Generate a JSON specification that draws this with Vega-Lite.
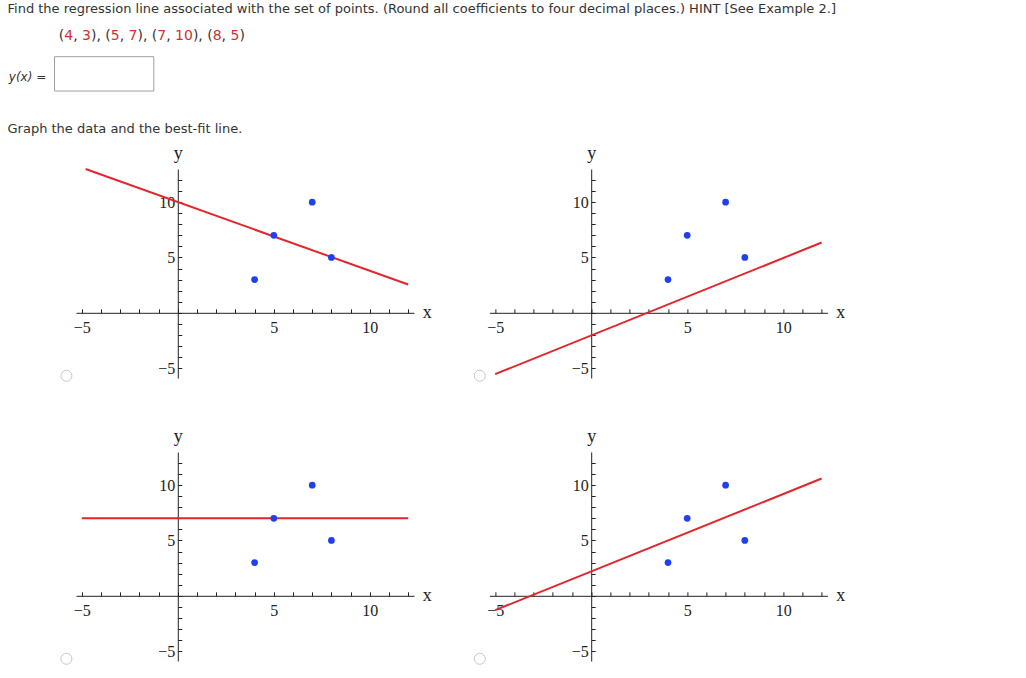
{
  "$schema": "https://vega.github.io/schema/vega-lite/v6.json",
  "background": "white",
  "padding": {"left": 7, "top": 0, "right": 5, "bottom": 5},
  "bounds": "flush",
  "columns": 2,
  "spacing": {"row": 74, "column": 75.4},
  "config": {"view": {"stroke": null}, "axis": {"labelOverlap": false}, "text": {"font": "DejaVu Sans", "fontSize": 14, "align": "left", "baseline": "alphabetic"}},
  "datasets": {
    "points": [{"x": 4, "y": 3}, {"x": 5, "y": 7}, {"x": 7, "y": 10}, {"x": 8, "y": 5}],
    "fitA": [{"x": -4.8, "y": 13.0}, {"x": 12.0, "y": 2.55}],
    "fitB": [{"x": -5, "y": -5.55}, {"x": 12, "y": 6.35}],
    "fitC": [{"x": -5, "y": 7}, {"x": 12, "y": 7}],
    "fitD": [{"x": -5, "y": -1.3}, {"x": 12, "y": 10.6}],
    "radio": [{"x": -5.8, "y": -5.7}]
  },
  "concat": [
    {
      "width": 338,
      "height": 94.5,
      "layer": [
        {"data": {"values": [{"t": "Find the regression line associated with the set of points. (Round all coefficients to four decimal places.) HINT [See Example 2.]"}]},
         "mark": {"type": "text", "x": -68.5, "y": 12.7, "fontSize": 13, "color": "#333333"},
         "encoding": {"text": {"field": "t"}}},
        {"data": {"values": [{"t": "("}]}, "mark": {"type": "text", "x": -17.2, "y": 40, "color": "#333333"}, "encoding": {"text": {"field": "t"}}},
        {"data": {"values": [{"t": "4"}]}, "mark": {"type": "text", "x": -11.74, "y": 40, "color": "#d0302f"}, "encoding": {"text": {"field": "t"}}},
        {"data": {"values": [{"t": ","}]}, "mark": {"type": "text", "x": -2.84, "y": 40, "color": "#333333"}, "encoding": {"text": {"field": "t"}}},
        {"data": {"values": [{"t": "3"}]}, "mark": {"type": "text", "x": 6.06, "y": 40, "color": "#d0302f"}, "encoding": {"text": {"field": "t"}}},
        {"data": {"values": [{"t": "), ("}]}, "mark": {"type": "text", "x": 14.96, "y": 40, "color": "#333333"}, "encoding": {"text": {"field": "t"}}},
        {"data": {"values": [{"t": "5"}]}, "mark": {"type": "text", "x": 34.78, "y": 40, "color": "#d0302f"}, "encoding": {"text": {"field": "t"}}},
        {"data": {"values": [{"t": ","}]}, "mark": {"type": "text", "x": 43.68, "y": 40, "color": "#333333"}, "encoding": {"text": {"field": "t"}}},
        {"data": {"values": [{"t": "7"}]}, "mark": {"type": "text", "x": 52.58, "y": 40, "color": "#d0302f"}, "encoding": {"text": {"field": "t"}}},
        {"data": {"values": [{"t": "), ("}]}, "mark": {"type": "text", "x": 61.48, "y": 40, "color": "#333333"}, "encoding": {"text": {"field": "t"}}},
        {"data": {"values": [{"t": "7"}]}, "mark": {"type": "text", "x": 81.3, "y": 40, "color": "#d0302f"}, "encoding": {"text": {"field": "t"}}},
        {"data": {"values": [{"t": ","}]}, "mark": {"type": "text", "x": 90.2, "y": 40, "color": "#333333"}, "encoding": {"text": {"field": "t"}}},
        {"data": {"values": [{"t": "10"}]}, "mark": {"type": "text", "x": 99.1, "y": 40, "color": "#d0302f"}, "encoding": {"text": {"field": "t"}}},
        {"data": {"values": [{"t": "), ("}]}, "mark": {"type": "text", "x": 116.9, "y": 40, "color": "#333333"}, "encoding": {"text": {"field": "t"}}},
        {"data": {"values": [{"t": "8"}]}, "mark": {"type": "text", "x": 136.72, "y": 40, "color": "#d0302f"}, "encoding": {"text": {"field": "t"}}},
        {"data": {"values": [{"t": ","}]}, "mark": {"type": "text", "x": 145.62, "y": 40, "color": "#333333"}, "encoding": {"text": {"field": "t"}}},
        {"data": {"values": [{"t": "5"}]}, "mark": {"type": "text", "x": 154.52, "y": 40, "color": "#d0302f"}, "encoding": {"text": {"field": "t"}}},
        {"data": {"values": [{"t": ")"}]}, "mark": {"type": "text", "x": 163.42, "y": 40, "color": "#333333"}, "encoding": {"text": {"field": "t"}}},
        {"data": {"values": [{"t": "y(x) ="}]},
         "mark": {"type": "text", "x": -67.2, "y": 80.5, "fontSize": 12, "fontStyle": "italic", "color": "#333333"},
         "encoding": {"text": {"field": "t"}}},
        {"data": {"values": [{"t": "box"}]},
         "mark": {"type": "rect", "x": -21.5, "x2": 77.8, "y": 56.7, "y2": 91, "fill": "white", "stroke": "#a0a0a0", "strokeWidth": 1},
         "encoding": {}},
        {"data": {"values": [{"t": "Graph the data and the best-fit line."}]},
         "mark": {"type": "text", "x": -68.5, "y": 133, "fontSize": 13, "color": "#333333"},
         "encoding": {"text": {"field": "t"}}}
      ]
    },
    {
      "width": 338,
      "height": 94.5,
      "data": {"values": [{"t": ""}]},
      "mark": {"type": "text"},
      "encoding": {"text": {"field": "t"}}
    },
    {
      "width": 338, "height": 209,
      "layer": [
        {"data": {"name": "fitA"}, "mark": {"type": "line", "color": "#e3262b", "strokeWidth": 2},
         "encoding": {
           "x": {"field": "x", "type": "quantitative", "scale": {"domain": [-5.3, 12.3], "nice": false, "zero": false},
                 "axis": {"title": "x", "values": [-5,-4,-3,-2,-1,0,1,2,3,4,5,6,7,8,9,10,11,12], "tickCount": 100, "format": "d", "labelExpr": "datum.value == -5 || datum.value == 5 || datum.value == 10 ? datum.label : ''", "labelFontSize": {"condition": {"test": "datum.value == -5 || datum.value == 5 || datum.value == 10", "value": 16}, "value": 0}, "offset": -65.2, "tickSize": -4, "labelPadding": 11, "labelFont": "Liberation Serif", "labelColor": "#222222", "tickColor": "#222222", "domainColor": "#222222", "grid": false, "labelFlush": false, "labelOverlap": false, "titleFont": "Liberation Serif", "titleFontSize": 18, "titleFontWeight": "normal", "titleColor": "#222222", "titleX": 350.8, "titleY": 4.7, "titleAlign": "center", "titleBaseline": "alphabetic"}},
           "y": {"field": "y", "type": "quantitative", "scale": {"domain": [-5.9, 13.0], "nice": false, "zero": false},
                 "axis": {"title": "y", "values": [-5,-4,-3,-2,-1,0,1,2,3,4,5,6,7,8,9,10,11,12], "tickCount": 100, "format": "d", "labelExpr": "datum.value == -5 || datum.value == 5 || datum.value == 10 ? datum.label : ''", "labelFontSize": {"condition": {"test": "datum.value == -5 || datum.value == 5 || datum.value == 10", "value": 16}, "value": 0}, "offset": -101.8, "tickSize": -4, "labelPadding": 7, "labelFont": "Liberation Serif", "labelColor": "#222222", "tickColor": "#222222", "domainColor": "#222222", "grid": false, "labelFlush": false, "labelOverlap": false, "titleFont": "Liberation Serif", "titleFontSize": 18, "titleFontWeight": "normal", "titleColor": "#222222", "titleAngle": 0, "titleX": 0, "titleY": -10.3, "titleAlign": "center", "titleBaseline": "alphabetic"}}
         }},
        {"data": {"name": "points"}, "mark": {"type": "point", "filled": true, "size": 45, "color": "#1f3ff0", "opacity": 1},
         "encoding": {"x": {"field": "x", "type": "quantitative", "scale": {"domain": [-5.3, 12.3], "nice": false, "zero": false}},
                      "y": {"field": "y", "type": "quantitative", "scale": {"domain": [-5.9, 13.0], "nice": false, "zero": false}}}},
        {"data": {"name": "radio"}, "mark": {"type": "point", "shape": "circle", "filled": true, "fill": "white", "stroke": "#c8c8c8", "strokeWidth": 1, "size": 121, "opacity": 1},
         "encoding": {"x": {"field": "x", "type": "quantitative", "scale": {"domain": [-5.3, 12.3], "nice": false, "zero": false}},
                      "y": {"field": "y", "type": "quantitative", "scale": {"domain": [-5.9, 13.0], "nice": false, "zero": false}}}}
      ]
    },
    {
      "width": 338, "height": 209,
      "layer": [
        {"data": {"name": "fitB"}, "mark": {"type": "line", "color": "#e3262b", "strokeWidth": 2},
         "encoding": {
           "x": {"field": "x", "type": "quantitative", "scale": {"domain": [-5.3, 12.3], "nice": false, "zero": false},
                 "axis": {"title": "x", "values": [-5,-4,-3,-2,-1,0,1,2,3,4,5,6,7,8,9,10,11,12], "tickCount": 100, "format": "d", "labelExpr": "datum.value == -5 || datum.value == 5 || datum.value == 10 ? datum.label : ''", "labelFontSize": {"condition": {"test": "datum.value == -5 || datum.value == 5 || datum.value == 10", "value": 16}, "value": 0}, "offset": -65.2, "tickSize": -4, "labelPadding": 11, "labelFont": "Liberation Serif", "labelColor": "#222222", "tickColor": "#222222", "domainColor": "#222222", "grid": false, "labelFlush": false, "labelOverlap": false, "titleFont": "Liberation Serif", "titleFontSize": 18, "titleFontWeight": "normal", "titleColor": "#222222", "titleX": 350.8, "titleY": 4.7, "titleAlign": "center", "titleBaseline": "alphabetic"}},
           "y": {"field": "y", "type": "quantitative", "scale": {"domain": [-5.9, 13.0], "nice": false, "zero": false},
                 "axis": {"title": "y", "values": [-5,-4,-3,-2,-1,0,1,2,3,4,5,6,7,8,9,10,11,12], "tickCount": 100, "format": "d", "labelExpr": "datum.value == -5 || datum.value == 5 || datum.value == 10 ? datum.label : ''", "labelFontSize": {"condition": {"test": "datum.value == -5 || datum.value == 5 || datum.value == 10", "value": 16}, "value": 0}, "offset": -101.8, "tickSize": -4, "labelPadding": 7, "labelFont": "Liberation Serif", "labelColor": "#222222", "tickColor": "#222222", "domainColor": "#222222", "grid": false, "labelFlush": false, "labelOverlap": false, "titleFont": "Liberation Serif", "titleFontSize": 18, "titleFontWeight": "normal", "titleColor": "#222222", "titleAngle": 0, "titleX": 0, "titleY": -10.3, "titleAlign": "center", "titleBaseline": "alphabetic"}}
         }},
        {"data": {"name": "points"}, "mark": {"type": "point", "filled": true, "size": 45, "color": "#1f3ff0", "opacity": 1},
         "encoding": {"x": {"field": "x", "type": "quantitative", "scale": {"domain": [-5.3, 12.3], "nice": false, "zero": false}},
                      "y": {"field": "y", "type": "quantitative", "scale": {"domain": [-5.9, 13.0], "nice": false, "zero": false}}}},
        {"data": {"name": "radio"}, "mark": {"type": "point", "shape": "circle", "filled": true, "fill": "white", "stroke": "#c8c8c8", "strokeWidth": 1, "size": 121, "opacity": 1},
         "encoding": {"x": {"field": "x", "type": "quantitative", "scale": {"domain": [-5.3, 12.3], "nice": false, "zero": false}},
                      "y": {"field": "y", "type": "quantitative", "scale": {"domain": [-5.9, 13.0], "nice": false, "zero": false}}}}
      ]
    },
    {
      "width": 338, "height": 209,
      "layer": [
        {"data": {"name": "fitC"}, "mark": {"type": "line", "color": "#e3262b", "strokeWidth": 2},
         "encoding": {
           "x": {"field": "x", "type": "quantitative", "scale": {"domain": [-5.3, 12.3], "nice": false, "zero": false},
                 "axis": {"title": "x", "values": [-5,-4,-3,-2,-1,0,1,2,3,4,5,6,7,8,9,10,11,12], "tickCount": 100, "format": "d", "labelExpr": "datum.value == -5 || datum.value == 5 || datum.value == 10 ? datum.label : ''", "labelFontSize": {"condition": {"test": "datum.value == -5 || datum.value == 5 || datum.value == 10", "value": 16}, "value": 0}, "offset": -65.2, "tickSize": -4, "labelPadding": 11, "labelFont": "Liberation Serif", "labelColor": "#222222", "tickColor": "#222222", "domainColor": "#222222", "grid": false, "labelFlush": false, "labelOverlap": false, "titleFont": "Liberation Serif", "titleFontSize": 18, "titleFontWeight": "normal", "titleColor": "#222222", "titleX": 350.8, "titleY": 4.7, "titleAlign": "center", "titleBaseline": "alphabetic"}},
           "y": {"field": "y", "type": "quantitative", "scale": {"domain": [-5.9, 13.0], "nice": false, "zero": false},
                 "axis": {"title": "y", "values": [-5,-4,-3,-2,-1,0,1,2,3,4,5,6,7,8,9,10,11,12], "tickCount": 100, "format": "d", "labelExpr": "datum.value == -5 || datum.value == 5 || datum.value == 10 ? datum.label : ''", "labelFontSize": {"condition": {"test": "datum.value == -5 || datum.value == 5 || datum.value == 10", "value": 16}, "value": 0}, "offset": -101.8, "tickSize": -4, "labelPadding": 7, "labelFont": "Liberation Serif", "labelColor": "#222222", "tickColor": "#222222", "domainColor": "#222222", "grid": false, "labelFlush": false, "labelOverlap": false, "titleFont": "Liberation Serif", "titleFontSize": 18, "titleFontWeight": "normal", "titleColor": "#222222", "titleAngle": 0, "titleX": 0, "titleY": -10.3, "titleAlign": "center", "titleBaseline": "alphabetic"}}
         }},
        {"data": {"name": "points"}, "mark": {"type": "point", "filled": true, "size": 45, "color": "#1f3ff0", "opacity": 1},
         "encoding": {"x": {"field": "x", "type": "quantitative", "scale": {"domain": [-5.3, 12.3], "nice": false, "zero": false}},
                      "y": {"field": "y", "type": "quantitative", "scale": {"domain": [-5.9, 13.0], "nice": false, "zero": false}}}},
        {"data": {"name": "radio"}, "mark": {"type": "point", "shape": "circle", "filled": true, "fill": "white", "stroke": "#c8c8c8", "strokeWidth": 1, "size": 121, "opacity": 1},
         "encoding": {"x": {"field": "x", "type": "quantitative", "scale": {"domain": [-5.3, 12.3], "nice": false, "zero": false}},
                      "y": {"field": "y", "type": "quantitative", "scale": {"domain": [-5.9, 13.0], "nice": false, "zero": false}}}}
      ]
    },
    {
      "width": 338, "height": 209,
      "layer": [
        {"data": {"name": "fitD"}, "mark": {"type": "line", "color": "#e3262b", "strokeWidth": 2},
         "encoding": {
           "x": {"field": "x", "type": "quantitative", "scale": {"domain": [-5.3, 12.3], "nice": false, "zero": false},
                 "axis": {"title": "x", "values": [-5,-4,-3,-2,-1,0,1,2,3,4,5,6,7,8,9,10,11,12], "tickCount": 100, "format": "d", "labelExpr": "datum.value == -5 || datum.value == 5 || datum.value == 10 ? datum.label : ''", "labelFontSize": {"condition": {"test": "datum.value == -5 || datum.value == 5 || datum.value == 10", "value": 16}, "value": 0}, "offset": -65.2, "tickSize": -4, "labelPadding": 11, "labelFont": "Liberation Serif", "labelColor": "#222222", "tickColor": "#222222", "domainColor": "#222222", "grid": false, "labelFlush": false, "labelOverlap": false, "titleFont": "Liberation Serif", "titleFontSize": 18, "titleFontWeight": "normal", "titleColor": "#222222", "titleX": 350.8, "titleY": 4.7, "titleAlign": "center", "titleBaseline": "alphabetic"}},
           "y": {"field": "y", "type": "quantitative", "scale": {"domain": [-5.9, 13.0], "nice": false, "zero": false},
                 "axis": {"title": "y", "values": [-5,-4,-3,-2,-1,0,1,2,3,4,5,6,7,8,9,10,11,12], "tickCount": 100, "format": "d", "labelExpr": "datum.value == -5 || datum.value == 5 || datum.value == 10 ? datum.label : ''", "labelFontSize": {"condition": {"test": "datum.value == -5 || datum.value == 5 || datum.value == 10", "value": 16}, "value": 0}, "offset": -101.8, "tickSize": -4, "labelPadding": 7, "labelFont": "Liberation Serif", "labelColor": "#222222", "tickColor": "#222222", "domainColor": "#222222", "grid": false, "labelFlush": false, "labelOverlap": false, "titleFont": "Liberation Serif", "titleFontSize": 18, "titleFontWeight": "normal", "titleColor": "#222222", "titleAngle": 0, "titleX": 0, "titleY": -10.3, "titleAlign": "center", "titleBaseline": "alphabetic"}}
         }},
        {"data": {"name": "points"}, "mark": {"type": "point", "filled": true, "size": 45, "color": "#1f3ff0", "opacity": 1},
         "encoding": {"x": {"field": "x", "type": "quantitative", "scale": {"domain": [-5.3, 12.3], "nice": false, "zero": false}},
                      "y": {"field": "y", "type": "quantitative", "scale": {"domain": [-5.9, 13.0], "nice": false, "zero": false}}}},
        {"data": {"name": "radio"}, "mark": {"type": "point", "shape": "circle", "filled": true, "fill": "white", "stroke": "#c8c8c8", "strokeWidth": 1, "size": 121, "opacity": 1},
         "encoding": {"x": {"field": "x", "type": "quantitative", "scale": {"domain": [-5.3, 12.3], "nice": false, "zero": false}},
                      "y": {"field": "y", "type": "quantitative", "scale": {"domain": [-5.9, 13.0], "nice": false, "zero": false}}}}
      ]
    }
  ]
}
